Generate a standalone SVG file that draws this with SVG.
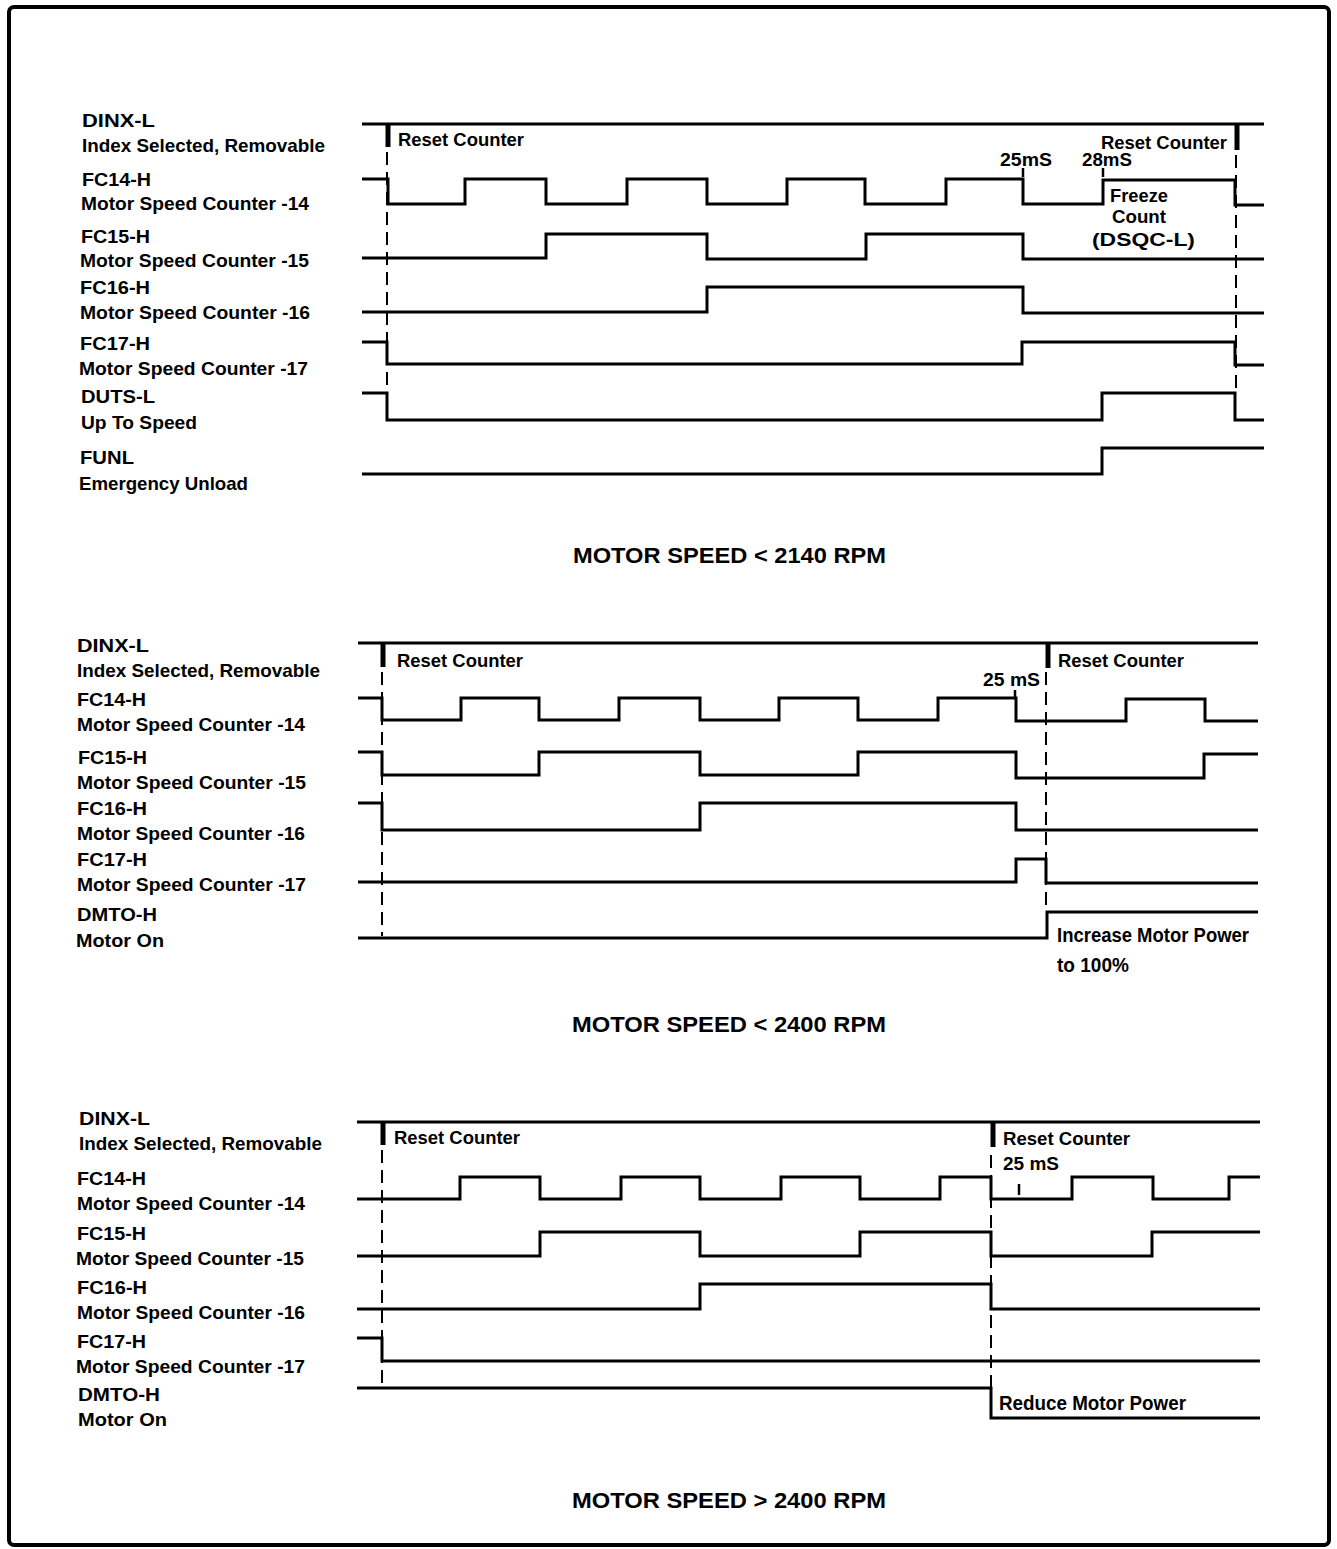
<svg xmlns="http://www.w3.org/2000/svg" width="1337" height="1549" viewBox="0 0 1337 1549">
<style>
text{font-family:"Liberation Sans",Arial,Helvetica,sans-serif;font-weight:bold;fill:#000}
.lb{font-size:19px}
.an{font-size:18px}
.cn{font-size:20px}
.ti{font-size:22px}
.w{fill:none;stroke:#000;stroke-width:3;stroke-linejoin:miter}
.rt{stroke:#000;stroke-width:5}
.d{stroke:#000;stroke-width:2;stroke-dasharray:13 7;fill:none}
.tk{stroke:#000;stroke-width:2.5}
</style>
<rect x="9" y="7" width="1320" height="1538" rx="5" fill="#fff" stroke="#000" stroke-width="4"/>

<g id="labels1">
<text class="lb" x="82" y="127" textLength="73" lengthAdjust="spacingAndGlyphs">DINX-L</text>
<text class="lb" x="82" y="152" textLength="243" lengthAdjust="spacingAndGlyphs">Index Selected, Removable</text>
<text class="lb" x="82" y="186" textLength="69" lengthAdjust="spacingAndGlyphs">FC14-H</text>
<text class="lb" x="81" y="210" textLength="228" lengthAdjust="spacingAndGlyphs">Motor Speed Counter -14</text>
<text class="lb" x="81" y="243" textLength="69" lengthAdjust="spacingAndGlyphs">FC15-H</text>
<text class="lb" x="80" y="267" textLength="229" lengthAdjust="spacingAndGlyphs">Motor Speed Counter -15</text>
<text class="lb" x="80" y="294" textLength="70" lengthAdjust="spacingAndGlyphs">FC16-H</text>
<text class="lb" x="80" y="319" textLength="230" lengthAdjust="spacingAndGlyphs">Motor Speed Counter -16</text>
<text class="lb" x="80" y="350" textLength="70" lengthAdjust="spacingAndGlyphs">FC17-H</text>
<text class="lb" x="79" y="375" textLength="229" lengthAdjust="spacingAndGlyphs">Motor Speed Counter -17</text>
<text class="lb" x="81" y="403" textLength="74" lengthAdjust="spacingAndGlyphs">DUTS-L</text>
<text class="lb" x="81" y="429" textLength="116" lengthAdjust="spacingAndGlyphs">Up To Speed</text>
<text class="lb" x="80" y="464" textLength="54" lengthAdjust="spacingAndGlyphs">FUNL</text>
<text class="lb" x="79" y="490" textLength="169" lengthAdjust="spacingAndGlyphs">Emergency Unload</text>
</g>

<g id="connectors">
<!-- section 1 -->
<path class="w" d="M362 124 H1264"/>
<path class="w" d="M362 179 H388 V204 H465 V179 H546 V204 H627 V179 H707 V204 H787 V179 H865 V204 H946 V179 H1023 V204 H1103 V180 H1235 V205 H1264"/>
<path class="w" d="M362 258 H546 V234 H707 V259 H866 V234 H1023 V259 H1264"/>
<path class="w" d="M362 312 H707 V287 H1023 V313 H1264"/>
<path class="w" d="M362 342 H387 V364 H1022 V342 H1235 V365 H1264"/>
<path class="w" d="M362 393 H387 V420 H1102 V393 H1235 V420 H1264"/>
<path class="w" d="M362 474 H1102 V448 H1264"/>
<line class="rt" x1="388" y1="124" x2="388" y2="147"/>
<line class="rt" x1="1237" y1="124" x2="1237" y2="150"/>
<line class="d" x1="387" y1="152" x2="387" y2="393"/>
<line class="d" x1="1236" y1="155" x2="1236" y2="393"/>
<line class="tk" x1="1023" y1="168" x2="1023" y2="177"/>
<line class="tk" x1="1103" y1="168" x2="1103" y2="177"/>

<!-- section 2 -->
<path class="w" d="M358 643 H1258"/>
<path class="w" d="M358 698 H382 V720 H461 V698 H539 V720 H619 V698 H700 V720 H779 V698 H858 V720 H938 V698 H1016 V721 H1126 V699 H1205 V721 H1258"/>
<path class="w" d="M358 752 H382 V775 H539 V752 H700 V775 H858 V752 H1016 V778 H1204 V754 H1258"/>
<path class="w" d="M358 803 H382 V830 H700 V803 H1016 V830 H1258"/>
<path class="w" d="M358 882 H1016 V859 H1046 V883 H1258"/>
<path class="w" d="M358 938 H1047 V912 H1258"/>
<line class="rt" x1="383" y1="643" x2="383" y2="667"/>
<line class="rt" x1="1048" y1="643" x2="1048" y2="668"/>
<line class="d" x1="382" y1="672" x2="382" y2="936"/>
<line class="d" x1="1046" y1="672" x2="1046" y2="912"/>
<line class="tk" x1="1015" y1="690" x2="1015" y2="698"/>

<!-- section 3 -->
<path class="w" d="M357 1122 H1260"/>
<path class="w" d="M357 1199 H460 V1177 H540 V1199 H621 V1177 H700 V1199 H781 V1177 H860 V1199 H940 V1177 H991 V1199 H1072 V1177 H1153 V1199 H1229 V1177 H1260"/>
<path class="w" d="M357 1256 H540 V1232 H700 V1256 H860 V1232 H991 V1256 H1152 V1232 H1260"/>
<path class="w" d="M357 1309 H700 V1284 H991 V1309 H1260"/>
<path class="w" d="M357 1338 H382 V1361 H1260"/>
<path class="w" d="M357 1388 H991 V1418 H1260"/>
<line class="rt" x1="383" y1="1122" x2="383" y2="1145"/>
<line class="rt" x1="993" y1="1122" x2="993" y2="1147"/>
<line class="d" x1="382" y1="1150" x2="382" y2="1388"/>
<line class="d" x1="991" y1="1155" x2="991" y2="1388"/>
<line class="tk" x1="1019" y1="1184" x2="1019" y2="1195"/>
</g>

<g id="annotations1">
<text class="an" x="398" y="146" textLength="126" lengthAdjust="spacingAndGlyphs">Reset Counter</text>
<text class="an" x="1101" y="149" textLength="126" lengthAdjust="spacingAndGlyphs">Reset Counter</text>
<text class="an" x="1000" y="166" textLength="52" lengthAdjust="spacingAndGlyphs">25mS</text>
<text class="an" x="1082" y="166" textLength="50" lengthAdjust="spacingAndGlyphs">28mS</text>
<text class="an" x="1110" y="202" textLength="58" lengthAdjust="spacingAndGlyphs">Freeze</text>
<text class="an" x="1112" y="223" textLength="54" lengthAdjust="spacingAndGlyphs">Count</text>
<text class="an" x="1092" y="246" textLength="103" lengthAdjust="spacingAndGlyphs">(DSQC-L)</text>
<text class="ti" x="573" y="563" textLength="313" lengthAdjust="spacingAndGlyphs">MOTOR SPEED &lt; 2140 RPM</text>
</g>

<g id="labels2">
<text class="lb" x="77" y="652" textLength="72" lengthAdjust="spacingAndGlyphs">DINX-L</text>
<text class="lb" x="77" y="677" textLength="243" lengthAdjust="spacingAndGlyphs">Index Selected, Removable</text>
<text class="lb" x="77" y="706" textLength="69" lengthAdjust="spacingAndGlyphs">FC14-H</text>
<text class="lb" x="77" y="731" textLength="228" lengthAdjust="spacingAndGlyphs">Motor Speed Counter -14</text>
<text class="lb" x="78" y="764" textLength="69" lengthAdjust="spacingAndGlyphs">FC15-H</text>
<text class="lb" x="77" y="789" textLength="229" lengthAdjust="spacingAndGlyphs">Motor Speed Counter -15</text>
<text class="lb" x="77" y="815" textLength="70" lengthAdjust="spacingAndGlyphs">FC16-H</text>
<text class="lb" x="77" y="840" textLength="228" lengthAdjust="spacingAndGlyphs">Motor Speed Counter -16</text>
<text class="lb" x="77" y="866" textLength="70" lengthAdjust="spacingAndGlyphs">FC17-H</text>
<text class="lb" x="77" y="891" textLength="229" lengthAdjust="spacingAndGlyphs">Motor Speed Counter -17</text>
<text class="lb" x="77" y="921" textLength="80" lengthAdjust="spacingAndGlyphs">DMTO-H</text>
<text class="lb" x="76" y="947" textLength="88" lengthAdjust="spacingAndGlyphs">Motor On</text>
</g>

<g id="annotations2">
<text class="an" x="397" y="667" textLength="126" lengthAdjust="spacingAndGlyphs">Reset Counter</text>
<text class="an" x="1058" y="667" textLength="126" lengthAdjust="spacingAndGlyphs">Reset Counter</text>
<text class="an" x="983" y="686" textLength="57" lengthAdjust="spacingAndGlyphs">25 mS</text>
<text class="cn" x="1057" y="942" textLength="192" lengthAdjust="spacingAndGlyphs">Increase Motor Power</text>
<text class="cn" x="1057" y="972" textLength="72" lengthAdjust="spacingAndGlyphs">to 100%</text>
<text class="ti" x="572" y="1032" textLength="314" lengthAdjust="spacingAndGlyphs">MOTOR SPEED &lt; 2400 RPM</text>
</g>

<g id="labels3">
<text class="lb" x="79" y="1125" textLength="71" lengthAdjust="spacingAndGlyphs">DINX-L</text>
<text class="lb" x="79" y="1150" textLength="243" lengthAdjust="spacingAndGlyphs">Index Selected, Removable</text>
<text class="lb" x="77" y="1185" textLength="69" lengthAdjust="spacingAndGlyphs">FC14-H</text>
<text class="lb" x="77" y="1210" textLength="228" lengthAdjust="spacingAndGlyphs">Motor Speed Counter -14</text>
<text class="lb" x="77" y="1240" textLength="69" lengthAdjust="spacingAndGlyphs">FC15-H</text>
<text class="lb" x="76" y="1265" textLength="228" lengthAdjust="spacingAndGlyphs">Motor Speed Counter -15</text>
<text class="lb" x="77" y="1294" textLength="70" lengthAdjust="spacingAndGlyphs">FC16-H</text>
<text class="lb" x="77" y="1319" textLength="228" lengthAdjust="spacingAndGlyphs">Motor Speed Counter -16</text>
<text class="lb" x="77" y="1348" textLength="69" lengthAdjust="spacingAndGlyphs">FC17-H</text>
<text class="lb" x="76" y="1373" textLength="229" lengthAdjust="spacingAndGlyphs">Motor Speed Counter -17</text>
<text class="lb" x="78" y="1401" textLength="82" lengthAdjust="spacingAndGlyphs">DMTO-H</text>
<text class="lb" x="78" y="1426" textLength="89" lengthAdjust="spacingAndGlyphs">Motor On</text>
</g>

<g id="annotations3">
<text class="an" x="394" y="1144" textLength="126" lengthAdjust="spacingAndGlyphs">Reset Counter</text>
<text class="an" x="1003" y="1145" textLength="127" lengthAdjust="spacingAndGlyphs">Reset Counter</text>
<text class="an" x="1003" y="1170" textLength="56" lengthAdjust="spacingAndGlyphs">25 mS</text>
<text class="cn" x="999" y="1410" textLength="187" lengthAdjust="spacingAndGlyphs">Reduce Motor Power</text>
<text class="ti" x="572" y="1508" textLength="314" lengthAdjust="spacingAndGlyphs">MOTOR SPEED &gt; 2400 RPM</text>
</g>
</svg>
